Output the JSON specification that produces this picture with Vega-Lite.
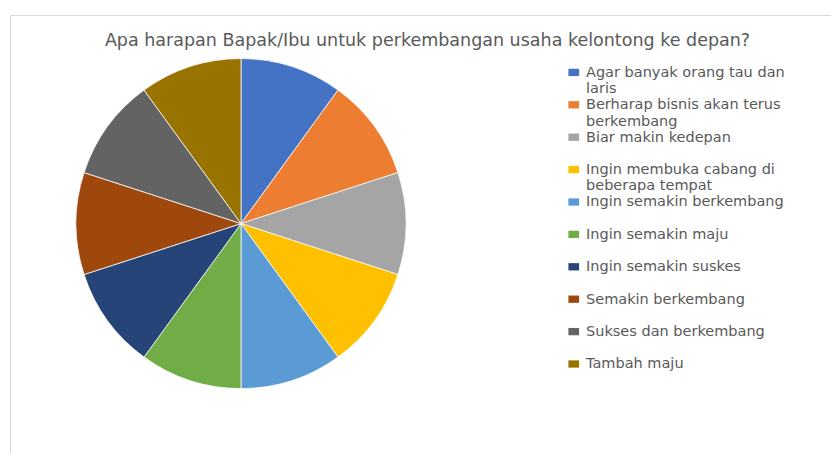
{
  "$schema": "https://vega.github.io/schema/vega-lite/v6.json",
  "width": 821,
  "height": 438,
  "autosize": {"type": "none"},
  "padding": {"left": 10, "top": 15, "right": 0, "bottom": 0},
  "background": "#ffffff",
  "title": {
    "text": "Apa harapan Bapak/Ibu untuk perkembangan usaha kelontong ke depan?",
    "font": "DejaVu Sans",
    "fontSize": 17.5,
    "fontWeight": "normal",
    "color": "#595959",
    "anchor": "middle",
    "frame": "group",
    "offset": -34,
    "dx": 7
  },
  "data": {
    "values": [
      {"label": "Agar banyak orang tau dan laris", "value": 1},
      {"label": "Berharap bisnis akan terus berkembang", "value": 1},
      {"label": "Biar makin kedepan", "value": 1},
      {"label": "Ingin membuka cabang di beberapa tempat", "value": 1},
      {"label": "Ingin semakin berkembang", "value": 1},
      {"label": "Ingin semakin maju", "value": 1},
      {"label": "Ingin semakin suskes", "value": 1},
      {"label": "Semakin berkembang", "value": 1},
      {"label": "Sukses dan berkembang", "value": 1},
      {"label": "Tambah maju", "value": 1}
    ]
  },
  "mark": {"type": "arc", "outerRadius": 165, "stroke": "#ffffff", "strokeWidth": 0.75},
  "encoding": {
    "theta": {"field": "value", "type": "quantitative", "stack": true},
    "color": {
      "field": "label",
      "type": "nominal",
      "scale": {
        "domain": [
          "Agar banyak orang tau dan laris",
          "Berharap bisnis akan terus berkembang",
          "Biar makin kedepan",
          "Ingin membuka cabang di beberapa tempat",
          "Ingin semakin berkembang",
          "Ingin semakin maju",
          "Ingin semakin suskes",
          "Semakin berkembang",
          "Sukses dan berkembang",
          "Tambah maju"
        ],
        "range": ["#4472C4", "#ED7D31", "#A5A5A5", "#FFC000", "#5B9BD5", "#70AD47", "#264478", "#9E480E", "#636363", "#997300"]
      },
      "legend": {
        "title": null,
        "orient": "none",
        "legendX": 556.5,
        "legendY": 54.5,
        "direction": "vertical",
        "columns": 1,
        "symbolType": "M-1.07,-1.6L1.07,-1.6L1.07,-0.14L-1.07,-0.14Z",
        "symbolSize": 100,
        "symbolStrokeWidth": 0,
        "symbolOpacity": 1,
        "labelFont": "DejaVu Sans",
        "labelFontSize": 14.5,
        "labelColor": "#595959",
        "labelBaseline": "alphabetic",
        "labelLineHeight": 17,
        "labelOffset": 5,
        "labelLimit": 400,
        "labelExpr": "length(datum.label) > 26 ? [substring(datum.label, 0, lastindexof(substring(datum.label, 0, 27), ' ')), substring(datum.label, lastindexof(substring(datum.label, 0, 27), ' ') + 1)] : datum.label",
        "gridAlign": "all",
        "rowPadding": 0.4,
        "padding": 0
      }
    },
    "x": {
      "datum": 0,
      "type": "quantitative",
      "scale": {"domain": [-1, 2.554], "nice": false, "zero": false},
      "axis": {"orient": "top", "domain": true, "domainColor": "#d9d9d9", "domainWidth": 1, "ticks": false, "labels": false, "grid": false, "title": null}
    },
    "y": {
      "datum": 0,
      "type": "quantitative",
      "scale": {"domain": [-1.1, 1], "nice": false, "zero": false},
      "axis": {"orient": "left", "domain": true, "domainColor": "#d9d9d9", "domainWidth": 1, "ticks": false, "labels": false, "grid": false, "title": null}
    }
  },
  "config": {"view": {"stroke": null}}
}
